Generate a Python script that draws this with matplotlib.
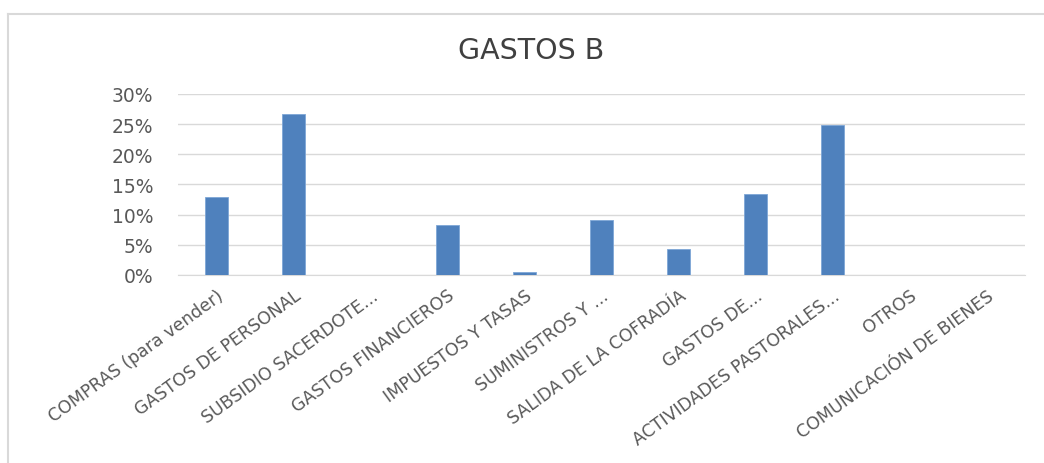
import numpy as np
import matplotlib.pyplot as plt
from matplotlib.lines import Line2D
from matplotlib.ticker import PercentFormatter

plt.rcParams['font.family'] = ['DejaVu Sans']

categories = ['COMPRAS (para vender)', 'GASTOS DE PERSONAL', 'SUBSIDIO SACERDOTE...',
              'GASTOS FINANCIEROS', 'IMPUESTOS Y TASAS', 'SUMINISTROS Y ...',
              'SALIDA DE LA COFRADÍA', 'GASTOS DE...', 'ACTIVIDADES PASTORALES...',
              'OTROS', 'COMUNICACIÓN DE BIENES']
values = [12.9, 26.7, 0.0, 8.3, 0.55, 9.1, 4.3, 13.5, 24.8, 0.0, 0.0]
yticks = [0, 5, 10, 15, 20, 25, 30]

grey = '#595959'

fig = plt.figure(figsize=(10.44, 4.64), dpi=100)
ax = fig.add_axes([0.1705, 0.4052, 0.8113, 0.3901])

x = np.arange(len(categories))
ax.bar(x, values, width=0.31, color='#4f81bd', edgecolor='#7ea6d6', linewidth=0.6, zorder=3)

ax.set_xlim(-0.5, len(categories) - 0.5)
ax.set_ylim(0, 30)
ax.set_yticks(yticks)
ax.yaxis.set_major_formatter(PercentFormatter(decimals=0))
ax.grid(axis='y', color='#d9d9d9', linewidth=1, zorder=0)
for s in ['top', 'right', 'left']:
    ax.spines[s].set_visible(False)
ax.spines['bottom'].set_color('#d9d9d9')
ax.tick_params(axis='both', length=0, colors=grey, labelsize=13.5)
ax.tick_params(axis='y', pad=18)
ax.set_xticks(x)
ax.set_xticklabels(categories, rotation=36, ha='right', rotation_mode='anchor', fontsize=12.5)
ax.tick_params(axis='x', pad=8)

fig.text(0.509, 0.89, 'GASTOS B', ha='center', va='center', fontsize=20.5, color='#404040')

# chart frame (top and left edges visible in the crop)
fig.add_artist(Line2D([8/1044, 8/1044], [0, 1 - 15/464], transform=fig.transFigure,
                      color='#d9d9d9', linewidth=1.5))
fig.add_artist(Line2D([8/1044, 1], [1 - 15/464, 1 - 15/464], transform=fig.transFigure,
                      color='#d9d9d9', linewidth=1.5))

fig.savefig('out.png', dpi=100)
